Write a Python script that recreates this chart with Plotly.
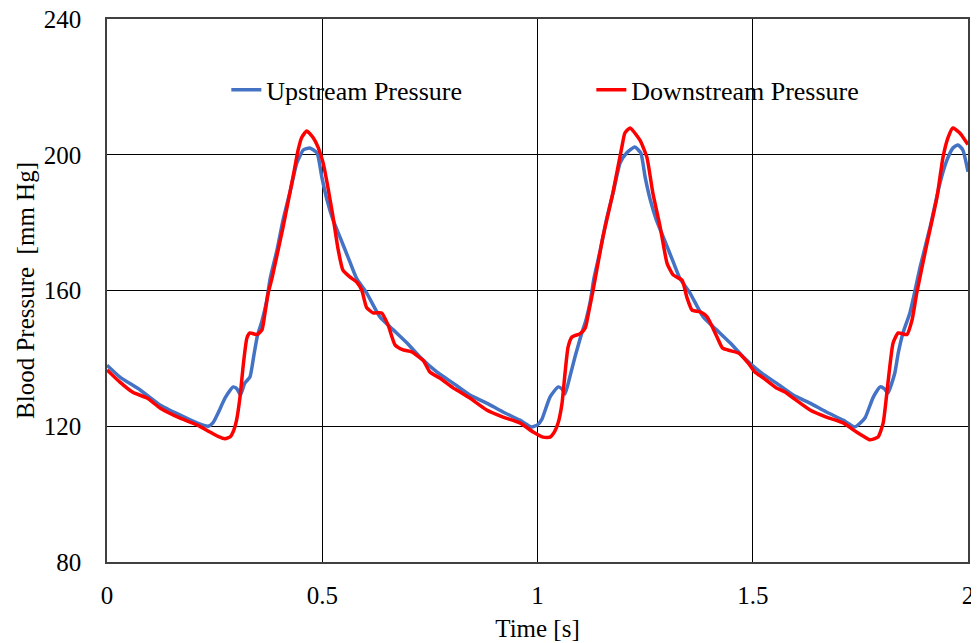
import plotly.graph_objects as go

# Upstream pressure (blue) – time [s], pressure [mm Hg]
up_t = [0.000, 0.030, 0.077, 0.123, 0.170, 0.209, 0.235, 0.246, 0.258, 0.275, 0.293, 0.302, 0.310,
        0.320, 0.332, 0.340, 0.344, 0.350, 0.360, 0.371, 0.379, 0.395, 0.409, 0.425, 0.441, 0.456,
        0.471, 0.488, 0.499, 0.511, 0.525, 0.541, 0.564, 0.580, 0.603, 0.634, 0.665, 0.697, 0.727,
        0.766, 0.804, 0.843, 0.882, 0.920, 0.959, 0.986,
        1.000, 1.010, 1.029, 1.048, 1.057, 1.064, 1.075, 1.087, 1.095, 1.103, 1.113, 1.123, 1.131,
        1.146, 1.160, 1.176, 1.192, 1.207, 1.226, 1.240, 1.250, 1.262, 1.276, 1.292, 1.315, 1.331,
        1.354, 1.385, 1.416, 1.448, 1.478, 1.517, 1.555, 1.594, 1.633, 1.671, 1.710, 1.737,
        1.750, 1.761, 1.780, 1.796, 1.806, 1.814, 1.830, 1.838, 1.849, 1.865, 1.877, 1.889, 1.912,
        1.935, 1.951, 1.965, 1.977, 1.988, 2.000]
up_p = [138.0, 134.5, 130.7, 126.3, 123.3, 121.0, 120.0, 121.0, 123.9, 128.5, 131.6, 131.0, 129.2,
        132.7, 134.5, 140.0, 143.0, 147.0, 151.0, 157.0, 163.5, 172.0, 180.8, 189.0, 197.6, 201.4,
        202.0, 200.5, 193.4, 186.7, 180.8, 175.8, 168.5, 163.5, 159.3, 152.2, 148.4, 144.5, 140.4,
        136.0, 132.7, 129.2, 126.8, 124.2, 121.8, 119.8,
        120.4, 122.0, 128.6, 131.6, 131.0, 129.5, 134.5, 140.4, 144.0, 147.5, 151.5, 157.0, 163.5,
        172.0, 180.8, 189.0, 197.6, 200.5, 202.3, 200.5, 193.4, 186.7, 180.8, 175.8, 168.5, 163.5,
        159.3, 152.2, 148.4, 144.5, 140.4, 136.0, 132.7, 129.2, 126.8, 124.2, 121.8, 119.8,
        121.0, 122.5, 128.6, 131.6, 131.0, 129.8, 135.7, 141.6, 147.5, 153.4, 160.0, 167.0, 178.7,
        191.7, 198.4, 202.0, 202.9, 201.4, 195.0]

# Downstream pressure (red)
dn_t = [0.000, 0.030, 0.060, 0.093, 0.123, 0.170, 0.209, 0.239, 0.258, 0.274, 0.287, 0.295, 0.301,
        0.309, 0.317, 0.325, 0.332, 0.348, 0.360, 0.367, 0.374, 0.383, 0.409, 0.432, 0.444, 0.452,
        0.464, 0.479, 0.490, 0.502, 0.513, 0.525, 0.537, 0.548, 0.564, 0.580, 0.592, 0.603, 0.618,
        0.638, 0.653, 0.669, 0.688, 0.708, 0.735, 0.750, 0.773, 0.804, 0.820, 0.843, 0.882, 0.920,
        0.959, 0.990, 1.013, 1.029,
        1.040, 1.048, 1.057, 1.064, 1.071, 1.080, 1.099, 1.111, 1.118, 1.129, 1.152, 1.175, 1.196,
        1.203, 1.215, 1.238, 1.254, 1.268, 1.285, 1.301, 1.315, 1.336, 1.347, 1.359, 1.378, 1.394,
        1.417, 1.430, 1.450, 1.468, 1.490, 1.505, 1.525, 1.555, 1.575, 1.594, 1.633, 1.671, 1.710,
        1.741, 1.758, 1.772, 1.791, 1.803, 1.814, 1.826, 1.838, 1.858, 1.870, 1.881, 1.905, 1.928,
        1.942, 1.954, 1.965, 1.981, 1.993, 2.000]
dn_p = [136.6, 133.0, 130.0, 128.3, 125.4, 122.4, 120.4, 118.3, 117.0, 116.3, 117.0, 119.0, 121.8,
        128.6, 138.6, 146.0, 147.5, 147.0, 148.4, 153.4, 159.0, 163.5, 178.7, 193.4, 201.4, 205.0,
        207.0, 205.0, 202.3, 197.6, 190.5, 181.7, 172.0, 166.0, 164.0, 162.5, 160.0, 155.0, 153.4,
        153.4, 149.8, 144.0, 142.5, 141.9, 139.3, 136.0, 134.2, 131.3, 130.1, 128.3, 124.8, 122.7,
        121.0, 118.3, 116.8, 116.8,
        118.5, 121.0, 126.8, 135.7, 143.3, 146.3, 147.3, 149.0, 153.0, 160.0, 175.8, 188.7, 202.3,
        206.4, 207.9, 204.3, 199.3, 188.7, 178.7, 168.0, 164.6, 163.0, 158.0, 154.2, 153.7, 152.2,
        146.3, 143.0, 142.2, 141.5, 138.5, 136.0, 134.2, 131.3, 130.1, 128.3, 124.8, 122.7, 121.0,
        118.3, 117.0, 116.0, 116.8, 121.0, 132.7, 144.5, 147.5, 147.0, 151.3, 159.3, 174.0, 187.5,
        199.3, 205.2, 207.9, 206.4, 204.3, 203.0]

x_ticks = [0, 0.5, 1, 1.5, 2]
x_tick_labels = ["0", "0.5", "1", "1.5", "2"]
y_ticks = [80, 120, 160, 200, 240]
y_tick_labels = ["80", "120", "160", "200", "240"]

FONT = "Liberation Serif, Times New Roman, serif"

fig = go.Figure()
fig.add_trace(go.Scatter(x=up_t, y=up_p, mode="lines", name="Upstream Pressure",
                         line=dict(color="#4472C4", width=3.5, shape="spline", smoothing=0.5)))
fig.add_trace(go.Scatter(x=dn_t, y=dn_p, mode="lines", name="Downstream Pressure",
                         line=dict(color="#FF0000", width=3.5, shape="spline", smoothing=0.5)))

fig.update_layout(
    width=971, height=635,
    margin=dict(l=99, r=11, t=11, b=81),
    paper_bgcolor="white", plot_bgcolor="white",
    font=dict(family=FONT, size=25, color="black"),
    legend=dict(orientation="h", x=0.1386, y=0.8695, xanchor="left", yanchor="middle",
                bgcolor="rgba(0,0,0,0)", font=dict(family=FONT, size=26, color="black"),
                entrywidth=320, entrywidthmode="pixels", tracegroupgap=0),
    xaxis=dict(range=[0, 2], tickvals=x_ticks, ticktext=x_tick_labels,
               showgrid=True, gridcolor="black", gridwidth=1,
               showline=True, linecolor="#404040", linewidth=1.5, mirror=True,
               ticks="", ticklabelstandoff=10, zeroline=False, automargin=False,
               ticklabeloverflow="allow",
               title=dict(text="Time [s]", font=dict(family=FONT, size=25), standoff=12)),
    yaxis=dict(range=[80, 240], tickvals=y_ticks, ticktext=y_tick_labels,
               showgrid=True, gridcolor="black", gridwidth=1,
               showline=True, linecolor="#404040", linewidth=1.5, mirror=True,
               ticks="", ticklabelstandoff=19, zeroline=False, automargin=False,
               ticklabeloverflow="allow",
               title=dict(text="Blood Pressure\u00a0 [mm Hg]", font=dict(family=FONT, size=25), standoff=2)),
    showlegend=True,
)

fig.write_html("out.html")
